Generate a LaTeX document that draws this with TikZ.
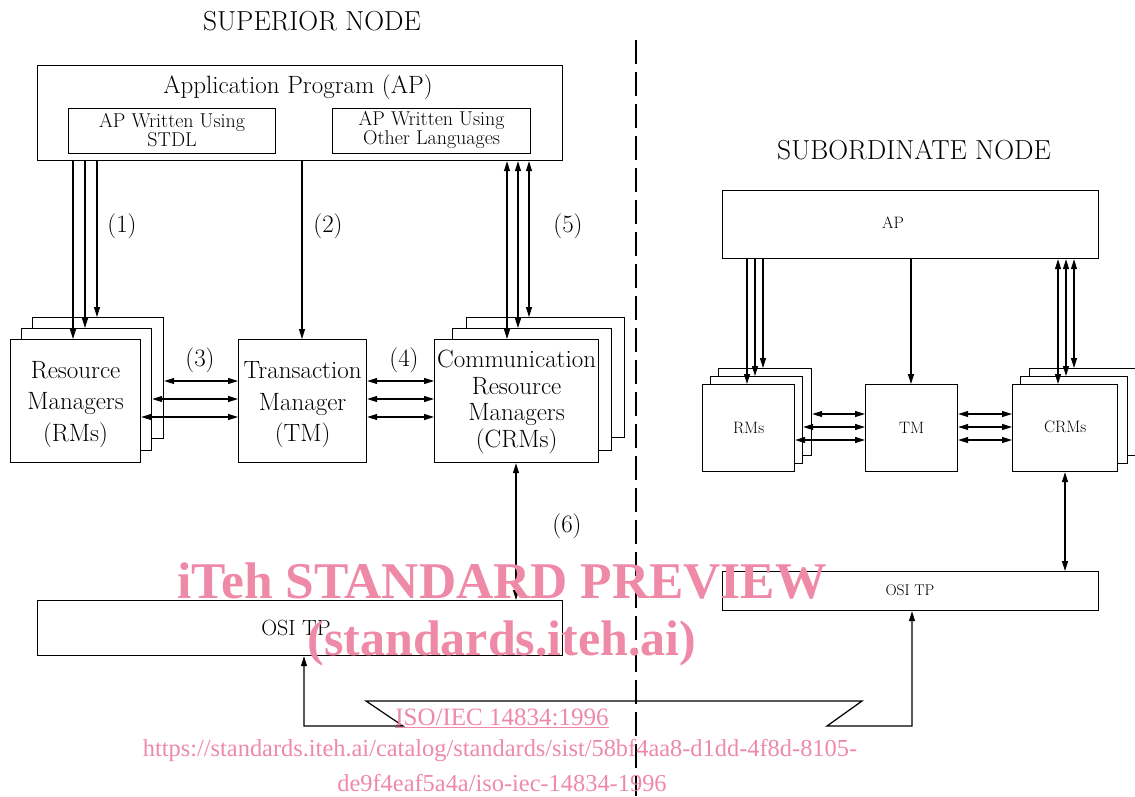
\documentclass[tikz,border=0pt]{standalone}
\usepackage{fontspec}
\newfontfamily\wmfont{Liberation Serif}
\usetikzlibrary{arrows.meta}
\definecolor{wm}{RGB}{238,137,168}
\begin{document}
\begin{tikzpicture}[x=1pt,y=-1pt,line width=1.2pt,
  box/.style={draw,fill=white,inner sep=0pt,anchor=north west},
  arr/.style={-{Triangle[length=10pt,width=6pt]}},
  darr/.style={{Triangle[length=10pt,width=6pt]}-{Triangle[length=10pt,width=6pt]}},
  big/.style={font=\fontsize{25}{31.5}\selectfont,align=center},
  mid/.style={font=\fontsize{20}{19}\selectfont,align=center},
  small/.style={font=\fontsize{16.5}{18}\selectfont,align=center},
  ttl/.style={font=\fontsize{27.5}{29}\selectfont},
  wmk/.style={text=wm,inner sep=0pt}]
\useasboundingbox (0,0) rectangle (1135,796);
% ---------- superior node ----------
\node[ttl] (t1) at (312,21) {SUPERIOR NODE};
\node[box,minimum width=525pt,minimum height=95pt] (ap) at (37,65) {};
\node[big] (apt) at (298,87) {Application Program (AP)};
\node[box,minimum width=207pt,minimum height=45pt] (stdl) at (68,108) {};
\node[mid] at ([yshift=1pt]stdl.center) {AP Written Using\\STDL};
\node[box,minimum width=198pt,minimum height=45pt] (oth) at (332,108) {};
\node[mid] at ([yshift=1pt]oth.center) {AP Written Using\\Other Languages};
% RMs stack
\node[box,minimum width=131pt,minimum height=121pt] (rmB) at (32,317) {};
\node[box,minimum width=130pt,minimum height=122pt] (rmM) at (21,328) {};
\node[box,minimum width=130pt,minimum height=123pt] (rmF) at (10,339) {};
\node[big] at ([yshift=-3pt]rmF.center) {Resource\\Managers\\(RMs)};
% TM
\node[box,minimum width=128pt,minimum height=123pt] (tm) at (238,339) {};
\node[big] at ([yshift=-4pt]tm.center) {Transaction\\Manager\\(TM)};
% CRMs stack
\node[box,minimum width=158pt,minimum height=120pt] (crmB) at (466,317) {};
\node[box,minimum width=159pt,minimum height=122pt] (crmM) at (452,328) {};
\node[box,minimum width=164pt,minimum height=123pt] (crmF) at (434,339) {};
\node[big,font=\fontsize{25}{26.5}\selectfont] at ([yshift=-1pt]crmF.center) {Communication\\Resource\\Managers\\(CRMs)};
% OSI TP
\node[box,minimum width=525pt,minimum height=55pt] (osi) at (37,600) {};
\node[big,font=\fontsize{22}{24}\selectfont] at (296,628) {OSI TP};
% x positions
\path (73,0) coordinate (a1) (85,0) coordinate (a2) (97,0) coordinate (a3)
      (302,0) coordinate (a4)
      (507,0) coordinate (a5) (518,0) coordinate (a6) (529,0) coordinate (a7)
      (516,0) coordinate (a8) (304,0) coordinate (a9)
      (0,381) coordinate (h1) (0,399) coordinate (h2) (0,417) coordinate (h3);
\draw[arr] (a1 |- ap.south) -- (a1 |- rmF.north);
\draw[arr] (a2 |- ap.south) -- (a2 |- rmM.north);
\draw[arr] (a3 |- ap.south) -- (a3 |- rmB.north);
\draw[arr] (a4 |- ap.south) -- (a4 |- tm.north);
\draw[darr] (a5 |- ap.south) -- (a5 |- crmF.north);
\draw[darr] (a6 |- ap.south) -- (a6 |- crmM.north);
\draw[darr] (a7 |- ap.south) -- (a7 |- crmB.north);
\draw[darr] (a8 |- crmF.south) -- (a8 |- osi.north);
\draw[darr] (rmB.east |- h1) -- (tm.west |- h1);
\draw[darr] (rmM.east |- h2) -- (tm.west |- h2);
\draw[darr] (rmF.east |- h3) -- (tm.west |- h3);
\draw[darr] (tm.east |- h1) -- (crmF.west |- h1);
\draw[darr] (tm.east |- h2) -- (crmF.west |- h2);
\draw[darr] (tm.east |- h3) -- (crmF.west |- h3);
\node[big] (l1) at (122,226) {(1)};
\node[big] (l2) at (328,226) {(2)};
\node[big] (l5) at (568,226) {(5)};
\node[big] (l3) at (200,360) {(3)};
\node[big] (l4) at (404,360) {(4)};
\node[big] (l6) at (567,526) {(6)};
% ---------- subordinate node ----------
\node[ttl] (t2) at (914,150) {SUBORDINATE NODE};
\node[box,minimum width=376pt,minimum height=68pt] (ap2) at (722,190) {};
\node[small] at (893,223) {AP};
\node[box,minimum width=93pt,minimum height=87pt] (rm2B) at (718,368) {};
\node[box,minimum width=92pt,minimum height=87pt] (rm2M) at (710,376) {};
\node[box,minimum width=92pt,minimum height=87pt] (rm2F) at (702,384) {};
\node[small] at (rm2F.center) {RMs};
\node[box,minimum width=92pt,minimum height=87pt] (tm2) at (865,384) {};
\node[small] at (tm2.center) {TM};
\node[box,minimum width=106pt,minimum height=87pt] (crm2B) at (1029,368) {};
\node[box,minimum width=107pt,minimum height=87pt] (crm2M) at (1020,376) {};
\node[box,minimum width=105pt,minimum height=87pt] (crm2F) at (1012,384) {};
\node[small] at ([yshift=1pt]crm2F.center) {CRMs};
\node[box,minimum width=376pt,minimum height=39pt] (osi2) at (722,571) {};
\node[small,font=\fontsize{15.5}{17}\selectfont] at (910,590) {OSI TP};
\path (747,0) coordinate (b1) (755,0) coordinate (b2) (763,0) coordinate (b3)
      (911,0) coordinate (b4)
      (1058,0) coordinate (b5) (1066,0) coordinate (b6) (1074,0) coordinate (b7)
      (1065,0) coordinate (b8) (912,0) coordinate (b9)
      (0,414) coordinate (g1) (0,427) coordinate (g2) (0,440) coordinate (g3);
\draw[arr] (b1 |- ap2.south) -- (b1 |- rm2F.north);
\draw[arr] (b2 |- ap2.south) -- (b2 |- rm2M.north);
\draw[arr] (b3 |- ap2.south) -- (b3 |- rm2B.north);
\draw[arr] (b4 |- ap2.south) -- (b4 |- tm2.north);
\draw[darr] (b5 |- ap2.south) -- (b5 |- crm2F.north);
\draw[darr] (b6 |- ap2.south) -- (b6 |- crm2M.north);
\draw[darr] (b7 |- ap2.south) -- (b7 |- crm2B.north);
\draw[darr] (b8 |- crm2F.south) -- (b8 |- osi2.north);
\draw[darr] (rm2B.east |- g1) -- (tm2.west |- g1);
\draw[darr] (rm2M.east |- g2) -- (tm2.west |- g2);
\draw[darr] (rm2F.east |- g3) -- (tm2.west |- g3);
\draw[darr] (tm2.east |- g1) -- (crm2F.west |- g1);
\draw[darr] (tm2.east |- g2) -- (crm2F.west |- g2);
\draw[darr] (tm2.east |- g3) -- (crm2F.west |- g3);
% ---------- link between OSI TPs ----------
\draw[darr] (b9 |- osi2.south) |- (827,726) -- (862,701) -- (366,701) -- (403,726) -| (a9 |- osi.south);
% divider
\draw[dash pattern=on 24pt off 8pt] (636,40) -- (636,796);
% ---------- watermark ----------
\node[wmk,font=\wmfont\bfseries\fontsize{51.5}{53}\selectfont] (w1) at (502,581) {iTeh STANDARD PREVIEW};
\node[wmk,font=\wmfont\bfseries\fontsize{50}{52}\selectfont] (w2) at (502,643) {(standards.iteh.ai)};
\node[wmk,font=\wmfont\fontsize{25}{27}\selectfont] (w3) at (502,718) {\underline{ISO/IEC 14834:1996}};
\node[wmk,font=\wmfont\fontsize{24.4}{26}\selectfont] (w4) at (500,751) {https://standards.iteh.ai/catalog/standards/sist/58bf4aa8-d1dd-4f8d-8105-};
\node[wmk,font=\wmfont\fontsize{24.4}{26}\selectfont] (w5) at (502,783) {de9f4eaf5a4a/iso-iec-14834-1996};
\end{tikzpicture}
\end{document}
